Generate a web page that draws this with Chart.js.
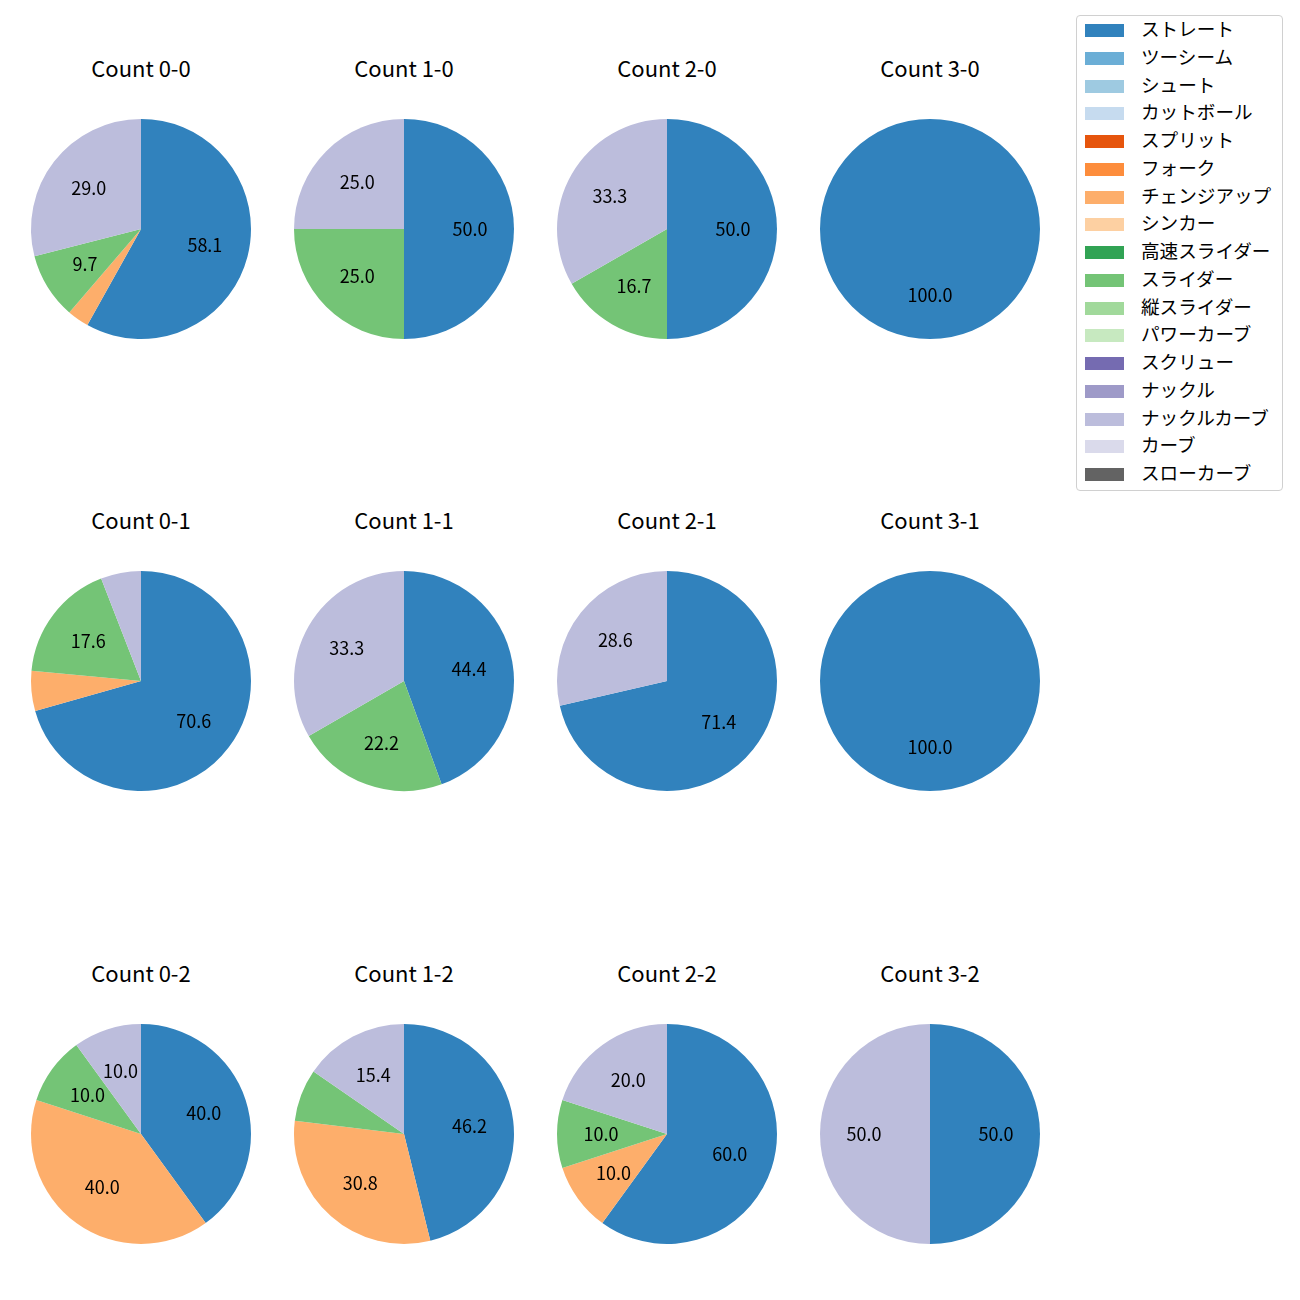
<!DOCTYPE html>
<html lang="ja">
	<head>
		<meta charset="UTF-8" />
		<title>Count pies</title>
		<style>
			body { margin: 0; background: #fff; font-family: "Noto Sans CJK JP", sans-serif; }
			#wrap { position: relative; width: 1300px; height: 1300px; }
			.pie { position: absolute; }
			.ttl { position: absolute; width: 240px; text-align: center; font-size: 22px; line-height: 24px; color: #000; }
			#legend {
				position: absolute; left: 1076px; top: 15px; width: 205px; height: 474px;
				border: 1px solid #d0d0d0; border-radius: 4px; background: #fff;
			}
			.row { position: absolute; left: 0; height: 28px; font-size: 18.6px; line-height: 28px; color: #000; white-space: nowrap; }
			.sw { position: absolute; left: 8px; top: 8px; width: 39px; height: 13px; }
			.lb { position: absolute; left: 64px; top: -2px; }
		</style>
	</head>
	<body>
		<div id="wrap"></div>
		<script src="https://cdn.jsdelivr.net/npm/chart.js"></script>
		<script>
			const pitchTypes = ["ストレート", "ツーシーム", "シュート", "カットボール", "スプリット", "フォーク", "チェンジアップ", "シンカー", "高速スライダー", "スライダー", "縦スライダー", "パワーカーブ", "スクリュー", "ナックル", "ナックルカーブ", "カーブ", "スローカーブ"];
			const pitchColors = ["#3182bd", "#6baed6", "#9ecae1", "#c6dbef", "#e6550d", "#fd8d3c", "#fdae6b", "#fdd0a2", "#31a354", "#74c476", "#a1d99b", "#c7e9c0", "#756bb1", "#9e9ac8", "#bcbddc", "#dadaeb", "#636363"];

			// 0-0,1-0,2-0,3-0, 0-1,... 3-2
			const counts = ["0-0", "1-0", "2-0", "3-0", "0-1", "1-1", "2-1", "3-1", "0-2", "1-2", "2-2", "3-2"];
			const straight = [58.1, 50, 50, 100, 70.6, 44.4, 71.4, 100, 40, 46.2, 60, 50];
			const changeup = [3.2, 0, 0, 0, 5.9, 0, 0, 0, 40, 30.8, 10, 0];
			const slider = [9.7, 25, 16.7, 0, 17.6, 22.2, 0, 0, 10, 7.7, 10, 0];
			const knuckleCurve = [29.0, 25, 33.3, 0, 5.9, 33.3, 28.6, 0, 10, 15.4, 20, 50];

			const colX = [141, 404, 667, 930];
			const rowY = [229, 681, 1134];

			const wrap = document.getElementById("wrap");

			// pct labels at 0.6 r, like matplotlib autopct
			const pctLabels = {
				id: "pctLabels",
				afterDatasetsDraw(chart) {
					const c = chart.ctx;
					const data = chart.data.datasets[0].data;
					const total = data.reduce((a, b) => a + b, 0);
					c.save();
					c.font = '18px "Noto Sans CJK JP"';
					c.fillStyle = "#000";
					c.textAlign = "center";
					c.textBaseline = "middle";
					chart.getDatasetMeta(0).data.forEach((arc, i) => {
						const pct = (data[i] / total) * 100;
						if (pct < 8) return;
						const p = arc.getProps(["x", "y", "startAngle", "endAngle", "outerRadius"], true);
						const mid = (p.startAngle + p.endAngle) / 2;
						const r = p.outerRadius * 0.6;
						c.fillText(pct.toFixed(1), p.x + Math.cos(mid) * r, p.y + Math.sin(mid) * r);
					});
					c.restore();
				}
			};

			counts.forEach((name, k) => {
				const cx = colX[k % 4], cy = rowY[Math.floor(k / 4)];
				const vals = pitchTypes.map(() => 0);
				vals[0] = straight[k];
				vals[6] = changeup[k];
				vals[9] = slider[k];
				vals[14] = knuckleCurve[k];

				const t = document.createElement("div");
				t.className = "ttl";
				t.style.left = cx - 120 + "px";
				t.style.top = cy - 174 + "px";
				t.textContent = "Count " + name;
				wrap.appendChild(t);

				const cv = document.createElement("canvas");
				cv.className = "pie";
				cv.width = 240;
				cv.height = 240;
				cv.style.left = cx - 120 + "px";
				cv.style.top = cy - 120 + "px";
				wrap.appendChild(cv);

				new Chart(cv.getContext("2d"), {
					type: "pie",
					data: {
						labels: pitchTypes,
						datasets: [{ data: vals, backgroundColor: pitchColors, borderWidth: 0 }]
					},
					options: {
						responsive: false,
						animation: false,
						layout: { padding: 10 },
						plugins: { legend: { display: false }, tooltip: { enabled: false } }
					},
					plugins: [pctLabels]
				});
			});

			// legend box
			const lg = document.createElement("div");
			lg.id = "legend";
			pitchTypes.forEach((p, i) => {
				const row = document.createElement("div");
				row.className = "row";
				row.style.top = 0 + i * 27.75 + "px";
				row.innerHTML = '<span class="sw" style="background:' + pitchColors[i] + '"></span><span class="lb">' + p + "</span>";
				lg.appendChild(row);
			});
			wrap.appendChild(lg);
		</script>
	</body>
</html>
